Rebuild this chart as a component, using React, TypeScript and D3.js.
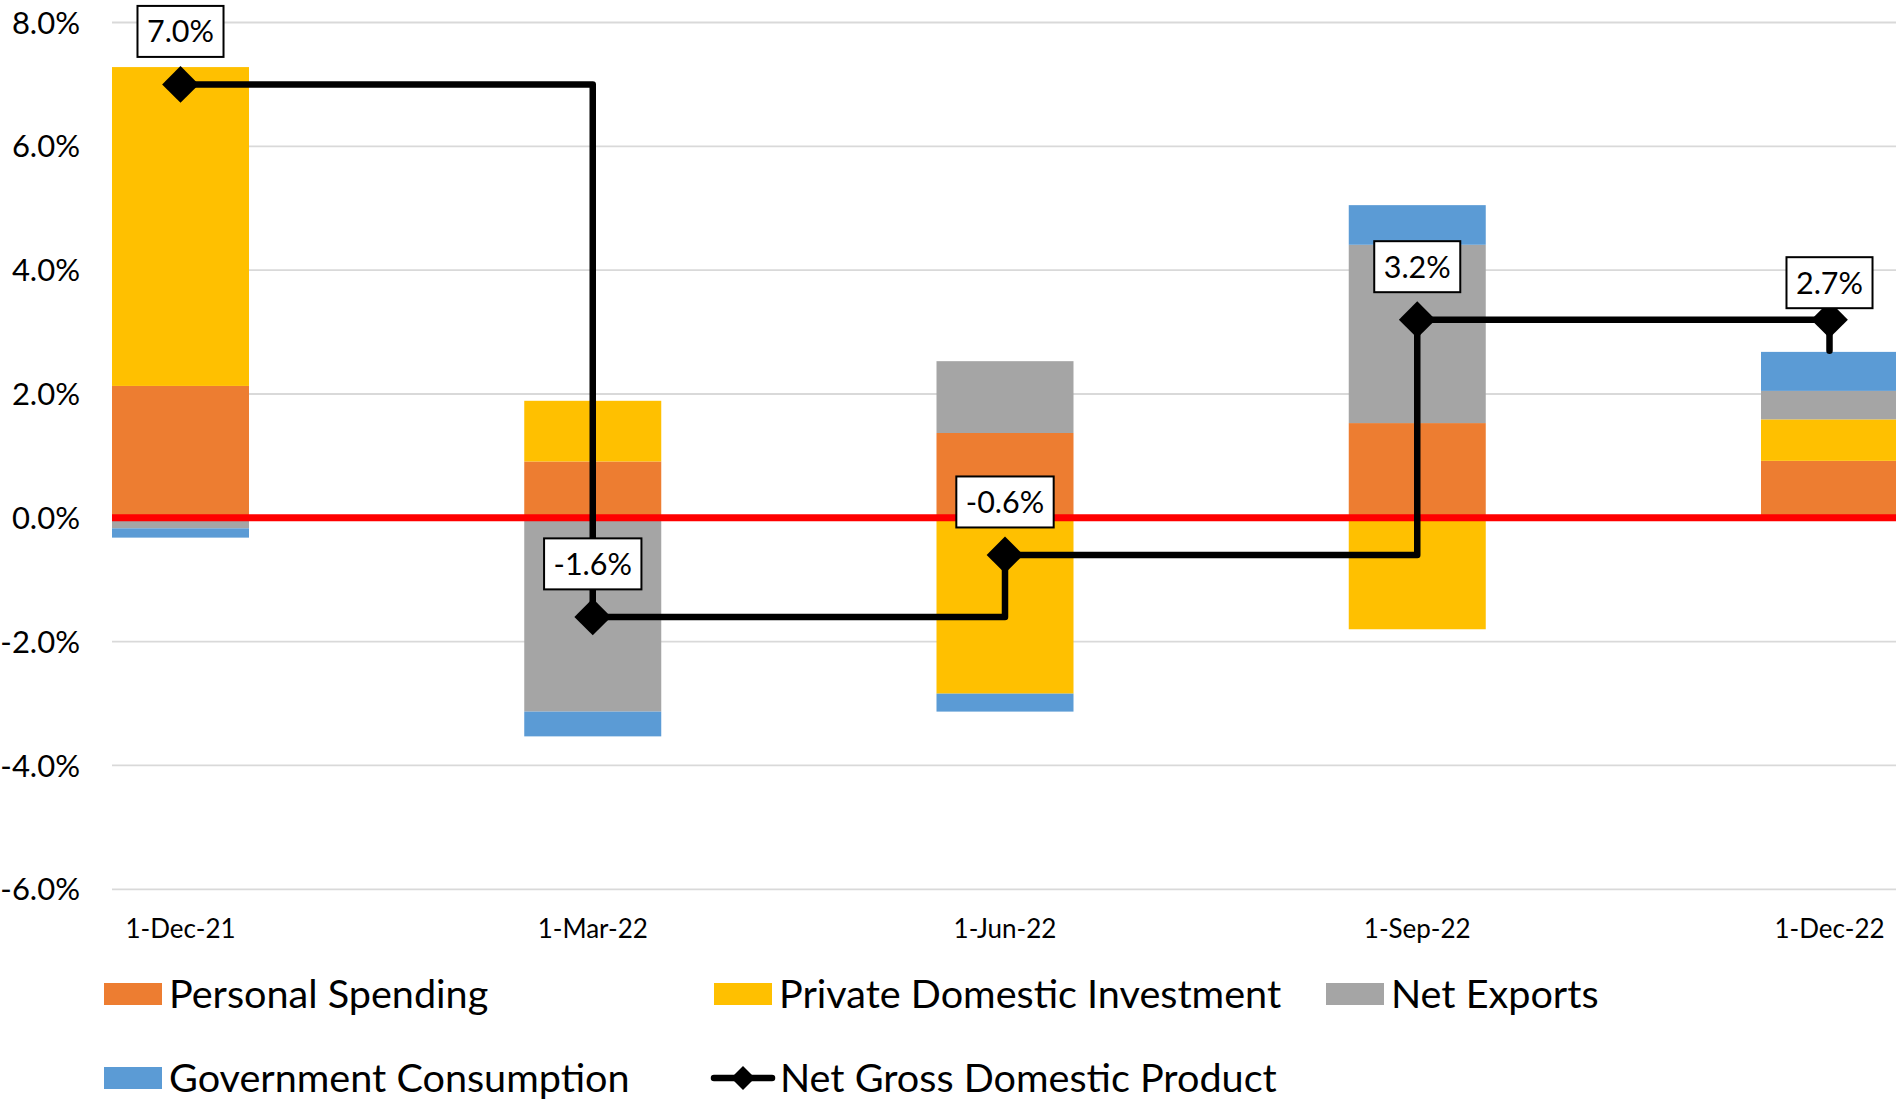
import * as d3 from "d3";
import React, { useEffect, useRef } from "react";

// quarterly contributions to GDP growth, percentage points
const categories = ["1-Dec-21", "1-Mar-22", "1-Jun-22", "1-Sep-22", "1-Dec-22"];
const personalSpending = [2.13, 0.91, 1.37, 1.53, 0.92];
const privateInvestment = [5.15, 0.98, -2.84, -1.8, 0.67];
const netExports = [-0.17, -3.13, 1.16, 2.88, 0.46];
const governmentConsumption = [-0.15, -0.4, -0.29, 0.64, 0.63];
const netGdp = [7.0, -1.6, -0.6, 3.2, 2.7];
// where Excel put the diamonds on the step line
const gdpMarkers = [7.0, -1.6, -0.6, 3.2, 3.2];
const yTicks = [-6, -4, -2, 0, 2, 4, 6, 8];

const seriesKeys = ["Personal Spending", "Private Domestic Investment", "Net Exports", "Government Consumption"];
const lineName = "Net Gross Domestic Product";
const colors = ["#ED7D31", "#FFC000", "#A5A5A5", "#5B9BD5"];

// label lift above the marker (px)
const labelRaise = [53, 53, 53, 53, 37];

const fmt = d3.formatLocale({ decimal: ".", thousands: ",", grouping: [3], currency: ["$", ""], minus: "-" }).format(".1f");
const FONT = "Lato, 'Open Sans', sans-serif";

function Chart() {
  const ref = useRef<SVGSVGElement>(null);

  const width = 1896;
  const height = 1102;
  const plotLeft = 112;
  const plotRight = 1896;
  const barWidth = 137;

  useEffect(() => draw(), []);

  function draw() {
    const svg = d3.select(ref.current);
    svg.selectAll("*").remove();

    const x = d3.scalePoint<string>().domain(categories).range([180.5, 1829.5]);
    const y = d3.scaleLinear().domain([-6, 8]).range([889.3, 22.5]);

    // grid
    svg
      .append("g")
      .selectAll("line")
      .data(yTicks.filter((t) => t !== 0))
      .enter()
      .append("line")
      .attr("x1", plotLeft)
      .attr("x2", plotRight)
      .attr("y1", (d) => y(d))
      .attr("y2", (d) => y(d))
      .attr("stroke", "#D9D9D9")
      .attr("stroke-width", 1.8);

    // y labels
    svg
      .append("g")
      .selectAll("text")
      .data(yTicks)
      .enter()
      .append("text")
      .attr("x", 80)
      .attr("y", (d) => y(d))
      .attr("dy", "0.36em")
      .attr("text-anchor", "end")
      .style("font-family", FONT)
      .style("font-size", "31px")
      .attr("fill", "#000")
      .text((d) => fmt(d) + "%");

    // x labels
    svg
      .append("g")
      .selectAll("text")
      .data(categories)
      .enter()
      .append("text")
      .attr("x", (d) => x(d)!)
      .attr("y", 929)
      .attr("dy", "0.36em")
      .attr("text-anchor", "middle")
      .style("font-family", FONT)
      .style("font-size", "26px")
      .text((d) => d);

    // stacked bars
    const rows = categories.map((c, i) => ({
      category: c,
      [seriesKeys[0]]: personalSpending[i],
      [seriesKeys[1]]: privateInvestment[i],
      [seriesKeys[2]]: netExports[i],
      [seriesKeys[3]]: governmentConsumption[i],
    }));
    const stacked = d3
      .stack<any>()
      .keys(seriesKeys)
      .offset(d3.stackOffsetDiverging)(rows);

    svg
      .append("defs")
      .append("clipPath")
      .attr("id", "plot-clip")
      .append("rect")
      .attr("x", plotLeft)
      .attr("y", 0)
      .attr("width", plotRight - plotLeft)
      .attr("height", height);

    svg
      .append("g")
      .attr("clip-path", "url(#plot-clip)")
      .selectAll("g")
      .data(stacked)
      .enter()
      .append("g")
      .attr("fill", (d, i) => colors[i])
      .selectAll("rect")
      .data((d) => d)
      .enter()
      .append("rect")
      .attr("x", (d) => x(d.data.category)! - barWidth / 2)
      .attr("width", barWidth)
      .attr("y", (d) => y(Math.max(d[0], d[1])))
      .attr("height", (d) => Math.abs(y(d[0]) - y(d[1])));

    // zero line
    svg
      .append("line")
      .attr("x1", plotLeft)
      .attr("x2", plotRight)
      .attr("y1", y(0))
      .attr("y2", y(0))
      .attr("stroke", "#FF0000")
      .attr("stroke-width", 7);

    // step line for net GDP
    const line = d3
      .line<number>()
      .x((d, i) => x(categories[i])!)
      .y((d) => y(d))
      .curve(d3.curveStepAfter);

    svg
      .append("path")
      .attr("d", line(netGdp))
      .attr("fill", "none")
      .attr("stroke", "#000")
      .attr("stroke-width", 6.5)
      .attr("stroke-linejoin", "round")
      .attr("stroke-linecap", "round");

    const diamond = d3.symbol(d3.symbolSquare, 26 * 26);
    svg
      .append("g")
      .selectAll("path")
      .data(gdpMarkers)
      .enter()
      .append("path")
      .attr("d", diamond()!)
      .attr("transform", (d, i) => `translate(${x(categories[i])},${y(d)}) rotate(45)`)
      .attr("fill", "#000");

    // value labels
    const labels = svg
      .append("g")
      .selectAll("g")
      .data(netGdp)
      .enter()
      .append("g")
      .attr("transform", (d, i) => `translate(${x(categories[i])},${y(gdpMarkers[i]) - labelRaise[i]})`);

    const boxes = labels.append("rect").attr("fill", "#fff").attr("stroke", "#000").attr("stroke-width", 2);
    const texts = labels
      .append("text")
      .attr("text-anchor", "middle")
      .attr("dy", "0.36em")
      .style("font-family", FONT)
      .style("font-size", "30.5px")
      .text((d) => fmt(d) + "%");

    texts.each(function (d, i) {
      const w = (this as SVGTextElement).getComputedTextLength() + 19;
      d3.select(boxes.nodes()[i])
        .attr("x", -w / 2)
        .attr("y", -25.5)
        .attr("width", w)
        .attr("height", 51);
    });

    // legend
    const legendItems = [
      { name: seriesKeys[0], color: colors[0], x: 104, y: 994, line: false },
      { name: seriesKeys[1], color: colors[1], x: 714, y: 994, line: false },
      { name: seriesKeys[2], color: colors[2], x: 1326, y: 994, line: false },
      { name: seriesKeys[3], color: colors[3], x: 104, y: 1078, line: false },
      { name: lineName, color: "#000", x: 711, y: 1078, line: true },
    ];

    const legend = svg
      .append("g")
      .selectAll("g")
      .data(legendItems)
      .enter()
      .append("g")
      .attr("transform", (d) => `translate(${d.x},${d.y})`);

    legend
      .filter((d) => !d.line)
      .append("rect")
      .attr("x", 0)
      .attr("y", -11)
      .attr("width", 58)
      .attr("height", 22)
      .attr("fill", (d) => d.color);

    const lineLegend = legend.filter((d) => d.line);
    lineLegend
      .append("line")
      .attr("x1", 3)
      .attr("x2", 61)
      .attr("y1", 0)
      .attr("y2", 0)
      .attr("stroke", "#000")
      .attr("stroke-width", 6.5)
      .attr("stroke-linecap", "round");
    lineLegend
      .append("path")
      .attr("d", d3.symbol(d3.symbolSquare, 17 * 17)()!)
      .attr("transform", "translate(32,0) rotate(45)")
      .attr("fill", "#000");

    legend
      .append("text")
      .attr("x", (d) => (d.line ? 69 : 65))
      .attr("y", 0)
      .attr("dy", "0.36em")
      .style("font-family", FONT)
      .style("font-size", "39.6px")
      .text((d) => d.name);
  }

  return (
    <div style={{ position: "absolute", left: 0, top: 0 }}>
      <svg ref={ref} width={width} height={height} style={{ display: "block", background: "#fff" }} />
    </div>
  );
}

export default function App() {
  return <Chart />;
}
